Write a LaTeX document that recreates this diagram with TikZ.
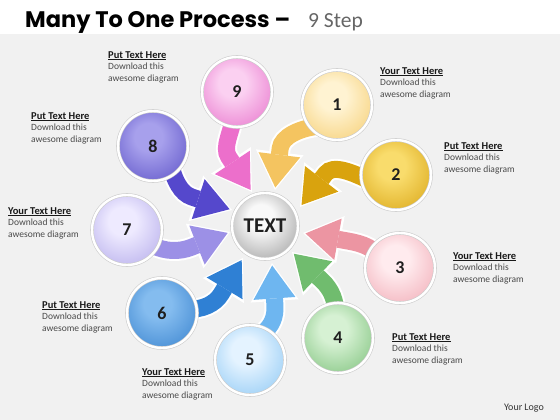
\documentclass[tikz,border=0pt]{standalone}
\usepackage{fontspec}
\setmainfont{Carlito}
\newfontfamily\titlefont{Poppins}
\usetikzlibrary{arrows.meta}
\definecolor{bggray}{HTML}{F1F1F1}
\definecolor{txtgray}{HTML}{4A4A4A}
\definecolor{ar9}{HTML}{EC6FCB}
\definecolor{ar1}{HTML}{F4C460}
\definecolor{ar2}{HTML}{D9A30E}
\definecolor{ar3}{HTML}{EC95A2}
\definecolor{ar4}{HTML}{70BC6E}
\definecolor{ar5}{HTML}{6EB6F0}
\definecolor{ar6}{HTML}{2F80D4}
\definecolor{ar7}{HTML}{9C90E6}
\definecolor{ar8}{HTML}{5548CC}
\definecolor{ballin}{HTML}{FFFFFF}
\definecolor{ballout}{HTML}{888888}
\pgfdeclareradialshading[ballin,ballout]{softball}{\pgfpoint{-4bp}{8bp}}{color(0bp)=(ballin); color(10bp)=(ballin); color(42bp)=(ballout); color(50bp)=(ballout)}
\newcommand\stepball[7]{\definecolor{ballin}{HTML}{#4}\definecolor{ballout}{HTML}{#5}\node[#7] (#1) at (#2,#3) {#6};}
\newcommand\steparrow[5]{\draw[arrowout] (#2) .. controls #3 .. #4 -- (#5);\draw[arrowin,#1] (#2) .. controls #3 .. #4 -- (#5);}
\begin{document}
\begin{tikzpicture}[x=1pt,y=-1pt,
  ball/.style={circle, minimum size=70pt, inner sep=0pt, shading=softball, draw=black!20, line width=0.6pt, double=white, double distance=2.4pt, font=\bfseries\fontsize{18}{18}\selectfont, text=black!88},
  hubball/.style={ball, minimum size=66pt, font=\bfseries\fontsize{21}{21}\selectfont},
  arrowout/.style={draw=white, line width=21pt, -{Triangle[width=48pt,length=38pt,line width=0pt]}},
  arrowin/.style={line width=17pt, shorten >=2.5pt, -{Triangle[width=42pt,length=33pt,line width=0pt]}},
  lbl/.style={anchor=north west, inner sep=0pt, align=left, font=\fontsize{9.5}{11.5}\selectfont, text=txtgray},
]
\useasboundingbox (0,0) rectangle (560,420);
\fill[bggray] (0,0) rectangle (560,420);
\fill[white] (0,0) rectangle (560,34);

% title
\node[anchor=base west, inner sep=0pt] (title) at (25,28) {\titlefont\bfseries\fontsize{22.5}{22.5}\selectfont Many To One Process –};
\node[anchor=base west, inner sep=0pt, text=black!60] (subtitle) at (308,28) {\fontsize{21.5}{21.5}\selectfont 9 Step};

% arrow ends
\coordinate (s9) at (234,115); \coordinate (t9) at (252,192);
\coordinate (s1) at (320,126); \coordinate (t1) at (275,190);
\coordinate (s2) at (372,182); \coordinate (t2) at (300,207);
\coordinate (s3) at (380,258); \coordinate (t3) at (303,233);
\coordinate (s4) at (336,315); \coordinate (t4) at (292,252);
\coordinate (s5) at (262,334); \coordinate (t5) at (272,263);
\coordinate (s6) at (188,309); \coordinate (t6) at (243,258);
\coordinate (s7) at (152,245); \coordinate (t7) at (230,232);
\coordinate (s8) at (170,162); \coordinate (t8) at (232,210);

\steparrow{ar9}{s9}{(232,132) and (222.0,147.1)}{(228.7,157.1)}{t9}
\steparrow{ar1}{s1}{(300,128) and (281.7,136.4)}{(280.2,148.3)}{t1}
\steparrow{ar2}{s2}{(352,172) and (332.9,164.2)}{(325.6,173.7)}{t2}
\steparrow{ar3}{s3}{(372,245) and (356.1,242.5)}{(344.3,240.4)}{t3}
\steparrow{ar4}{s4}{(336,300) and (331.1,289.3)}{(322.4,281)}{t4}
\steparrow{ar5}{s5}{(272,326) and (275.7,316.9)}{(274.9,304.9)}{t5}
\steparrow{ar6}{s6}{(202,310) and (215.0,304.2)}{(221.2,293.9)}{t6}
\steparrow{ar7}{s7}{(165,252) and (179.8,251.8)}{(191,247.4)}{t7}
\steparrow{ar8}{s8}{(174,180) and (180.6,193.4)}{(192,197.1)}{t8}

% circles
\stepball{n9}{237}{92}{FBD0F1}{E461C4}{9}{ball}
\stepball{n1}{337}{105}{FFF3D2}{F3C65E}{1}{ball}
\stepball{n2}{396}{175}{F9DC6C}{D39B05}{2}{ball}
\stepball{n3}{400}{268}{FFEBEE}{EE9EAA}{3}{ball}
\stepball{n4}{338}{338}{D6F1D3}{6CB86A}{4}{ball}
\stepball{n5}{250}{360}{E4F3FF}{7DC0F2}{5}{ball}
\stepball{n6}{162}{313}{84BCEF}{2B78C8}{6}{ball}
\stepball{n7}{127}{230}{EEEAFF}{A89EE6}{7}{ball}
\stepball{n8}{153}{146}{A7A0EC}{4F44C0}{8}{ball}
\stepball{hub}{265}{226}{F8F8F8}{8A8A8A}{TEXT}{hubball}

% labels
\node[lbl] (l9) at (108,51) {{\bfseries\fontsize{10.5}{11.5}\selectfont\color{black!90}\underline{Put Text Here}}\\Download this\\awesome diagram};
\node[lbl] (l1) at (380,67) {{\bfseries\fontsize{10.5}{11.5}\selectfont\color{black!90}\underline{Your Text Here}}\\Download this\\awesome diagram};
\node[lbl] (l2) at (444,142) {{\bfseries\fontsize{10.5}{11.5}\selectfont\color{black!90}\underline{Put Text Here}}\\Download this\\awesome diagram};
\node[lbl] (l3) at (453,252) {{\bfseries\fontsize{10.5}{11.5}\selectfont\color{black!90}\underline{Your Text Here}}\\Download this\\awesome diagram};
\node[lbl] (l4) at (392,333) {{\bfseries\fontsize{10.5}{11.5}\selectfont\color{black!90}\underline{Put Text Here}}\\Download this\\awesome diagram};
\node[lbl] (l5) at (142,368) {{\bfseries\fontsize{10.5}{11.5}\selectfont\color{black!90}\underline{Your Text Here}}\\Download this\\awesome diagram};
\node[lbl] (l6) at (42,301) {{\bfseries\fontsize{10.5}{11.5}\selectfont\color{black!90}\underline{Put Text Here}}\\Download this\\awesome diagram};
\node[lbl] (l7) at (8,207) {{\bfseries\fontsize{10.5}{11.5}\selectfont\color{black!90}\underline{Your Text Here}}\\Download this\\awesome diagram};
\node[lbl] (l8) at (31,112) {{\bfseries\fontsize{10.5}{11.5}\selectfont\color{black!90}\underline{Put Text Here}}\\Download this\\awesome diagram};

\node[inner sep=0pt, text=black!80, font=\fontsize{10}{10}\selectfont] (logo) at (524,408) {Your Logo};
\end{tikzpicture}
\end{document}
